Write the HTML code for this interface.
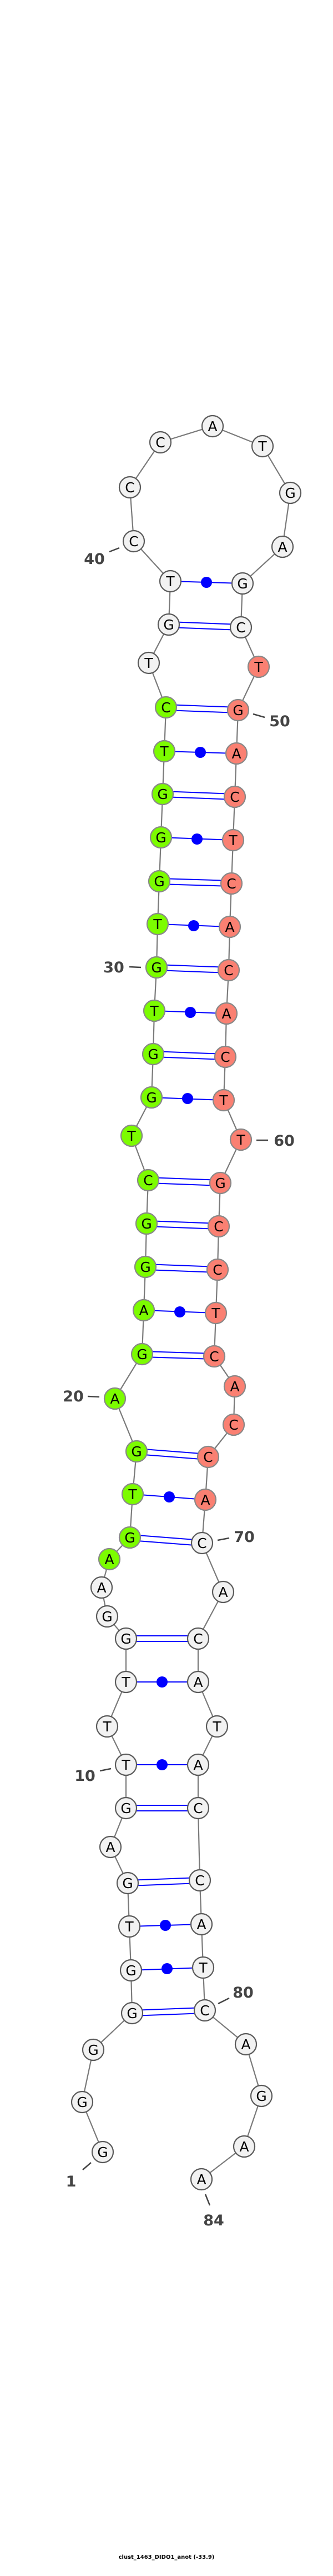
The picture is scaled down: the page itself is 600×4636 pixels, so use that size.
<!DOCTYPE html>
<html><head><meta charset="utf-8"><style>html,body{margin:0;padding:0;background:#fff}svg{display:block}</style></head>
<body>
<svg width="600" height="4636" viewBox="0 0 600 4636" xmlns="http://www.w3.org/2000/svg" font-family="'DejaVu Sans','Liberation Sans',sans-serif">
<polyline fill="none" stroke="#7a7a7a" stroke-width="2.2" points="185,3873 148,3783 168,3689 238,3623 236,3546 233,3467 230,3389 199,3324 227,3254 227,3176 193,3107 227,3027 227,2949 193,2909 183,2857 197,2806 234,2767 239,2689 246,2612 207,2517 256,2437 259,2358 262,2280 264,2202 267,2124 237,2044 273,1975 276,1897 278,1819 282,1741 284,1663 287,1586 290,1507 293,1429 296,1352 299,1273 268,1193 304,1124 307,1046 241,974 234,877 289,796 383,767 473,803 523,887 509,984 437,1050 434,1129 466,1200 429,1278 426,1356 423,1434 420,1512 417,1590 414,1668 412,1746 408,1824 406,1902 403,1980 434,2051 397,2129 394,2207 392,2285 389,2363 386,2441 423,2495 421,2564 375,2622 370,2699 364,2777 402,2865 357,2949 357,3027 391,3107 357,3176 357,3254 360,3384 363,3463 366,3541 369,3618 443,3679 471,3772 440,3863 363,3922"/>
<g stroke="#0000ff" stroke-width="2">
<!-- double (GC) -->
<line x1="227" y1="2944" x2="357" y2="2944"/><line x1="227" y1="2954" x2="357" y2="2954"/>
<line x1="227" y1="3249" x2="357" y2="3249"/><line x1="227" y1="3259" x2="357" y2="3259"/>
<line x1="230" y1="3384" x2="360" y2="3379"/><line x1="230" y1="3394" x2="360" y2="3389"/>
<line x1="238" y1="3618" x2="369" y2="3613"/><line x1="238" y1="3628" x2="369" y2="3623"/>
<line x1="304" y1="1119" x2="434" y2="1124"/><line x1="304" y1="1129" x2="434" y2="1134"/>
<line x1="299" y1="1268" x2="429" y2="1273"/><line x1="299" y1="1278" x2="429" y2="1283"/>
<line x1="293" y1="1424" x2="423" y2="1429"/><line x1="293" y1="1434" x2="423" y2="1439"/>
<line x1="287" y1="1581" x2="417" y2="1585"/><line x1="287" y1="1591" x2="417" y2="1595"/>
<line x1="282" y1="1736" x2="412" y2="1741"/><line x1="282" y1="1746" x2="412" y2="1751"/>
<line x1="276" y1="1892" x2="406" y2="1897"/><line x1="276" y1="1902" x2="406" y2="1907"/>
<line x1="267" y1="2119" x2="397" y2="2124"/><line x1="267" y1="2129" x2="397" y2="2134"/>
<line x1="264" y1="2197" x2="394" y2="2202"/><line x1="264" y1="2207" x2="394" y2="2212"/>
<line x1="262" y1="2275" x2="392" y2="2280"/><line x1="262" y1="2285" x2="392" y2="2290"/>
<line x1="256" y1="2432" x2="386" y2="2436"/><line x1="256" y1="2442" x2="386" y2="2446"/>
<line x1="246" y1="2607" x2="375" y2="2617"/><line x1="246" y1="2617" x2="375" y2="2627"/>
<line x1="234" y1="2762" x2="364" y2="2772"/><line x1="234" y1="2772" x2="364" y2="2782"/>
<!-- single (wobble/AT) -->
<line x1="227" y1="3027" x2="357" y2="3027"/>
<line x1="227" y1="3176" x2="357" y2="3176"/>
<line x1="233" y1="3467" x2="363" y2="3463"/>
<line x1="236" y1="3546" x2="366" y2="3541"/>
<line x1="307" y1="1046" x2="437" y2="1050"/>
<line x1="296" y1="1352" x2="426" y2="1356"/>
<line x1="290" y1="1507" x2="420" y2="1512"/>
<line x1="284" y1="1663" x2="414" y2="1668"/>
<line x1="278" y1="1819" x2="408" y2="1824"/>
<line x1="273" y1="1975" x2="403" y2="1980"/>
<line x1="259" y1="2358" x2="389" y2="2363"/>
<line x1="239" y1="2689" x2="370" y2="2699"/>
</g>
<g fill="#0000ff">
<circle cx="292" cy="3027" r="10"/><circle cx="292" cy="3176" r="10"/><circle cx="298" cy="3465" r="10"/><circle cx="301" cy="3543" r="10"/>
<circle cx="372" cy="1048" r="10"/><circle cx="361" cy="1354" r="10"/><circle cx="355" cy="1510" r="10"/><circle cx="349" cy="1666" r="10"/>
<circle cx="343" cy="1822" r="10"/><circle cx="338" cy="1977" r="10"/><circle cx="324" cy="2361" r="10"/><circle cx="305" cy="2694" r="10"/>
</g>
<g stroke-width="2.2" font-size="25" text-anchor="middle">
<g fill="#f2f2f2" stroke="#5a5a5a">
<circle cx="185" cy="3873" r="19"/><circle cx="148" cy="3783" r="19"/><circle cx="168" cy="3689" r="19"/><circle cx="238" cy="3623" r="19"/><circle cx="236" cy="3546" r="19"/><circle cx="233" cy="3467" r="19"/><circle cx="230" cy="3389" r="19"/><circle cx="199" cy="3324" r="19"/><circle cx="227" cy="3254" r="19"/><circle cx="227" cy="3176" r="19"/><circle cx="193" cy="3107" r="19"/><circle cx="227" cy="3027" r="19"/><circle cx="227" cy="2949" r="19"/><circle cx="193" cy="2909" r="19"/><circle cx="183" cy="2857" r="19"/>
<circle cx="268" cy="1193" r="19"/><circle cx="304" cy="1124" r="19"/><circle cx="307" cy="1046" r="19"/><circle cx="241" cy="974" r="19"/><circle cx="234" cy="877" r="19"/><circle cx="289" cy="796" r="19"/><circle cx="383" cy="767" r="19"/><circle cx="473" cy="803" r="19"/><circle cx="523" cy="887" r="19"/><circle cx="509" cy="984" r="19"/><circle cx="437" cy="1050" r="19"/><circle cx="434" cy="1129" r="19"/>
<circle cx="364" cy="2777" r="19"/><circle cx="402" cy="2865" r="19"/><circle cx="357" cy="2949" r="19"/><circle cx="357" cy="3027" r="19"/><circle cx="391" cy="3107" r="19"/><circle cx="357" cy="3176" r="19"/><circle cx="357" cy="3254" r="19"/><circle cx="360" cy="3384" r="19"/><circle cx="363" cy="3463" r="19"/><circle cx="366" cy="3541" r="19"/><circle cx="369" cy="3618" r="19"/><circle cx="443" cy="3679" r="19"/><circle cx="471" cy="3772" r="19"/><circle cx="440" cy="3863" r="19"/><circle cx="363" cy="3922" r="19"/>
</g>
<g fill="#7cfc00" stroke="#888">
<circle cx="197" cy="2806" r="19"/><circle cx="234" cy="2767" r="19"/><circle cx="239" cy="2689" r="19"/><circle cx="246" cy="2612" r="19"/><circle cx="207" cy="2517" r="19"/><circle cx="256" cy="2437" r="19"/><circle cx="259" cy="2358" r="19"/><circle cx="262" cy="2280" r="19"/><circle cx="264" cy="2202" r="19"/><circle cx="267" cy="2124" r="19"/><circle cx="237" cy="2044" r="19"/><circle cx="273" cy="1975" r="19"/><circle cx="276" cy="1897" r="19"/><circle cx="278" cy="1819" r="19"/><circle cx="282" cy="1741" r="19"/><circle cx="284" cy="1663" r="19"/><circle cx="287" cy="1586" r="19"/><circle cx="290" cy="1507" r="19"/><circle cx="293" cy="1429" r="19"/><circle cx="296" cy="1352" r="19"/><circle cx="299" cy="1273" r="19"/>
</g>
<g fill="#fa8072" stroke="#888">
<circle cx="466" cy="1200" r="19"/><circle cx="429" cy="1278" r="19"/><circle cx="426" cy="1356" r="19"/><circle cx="423" cy="1434" r="19"/><circle cx="420" cy="1512" r="19"/><circle cx="417" cy="1590" r="19"/><circle cx="414" cy="1668" r="19"/><circle cx="412" cy="1746" r="19"/><circle cx="408" cy="1824" r="19"/><circle cx="406" cy="1902" r="19"/><circle cx="403" cy="1980" r="19"/><circle cx="434" cy="2051" r="19"/><circle cx="397" cy="2129" r="19"/><circle cx="394" cy="2207" r="19"/><circle cx="392" cy="2285" r="19"/><circle cx="389" cy="2363" r="19"/><circle cx="386" cy="2441" r="19"/><circle cx="423" cy="2495" r="19"/><circle cx="421" cy="2564" r="19"/><circle cx="375" cy="2622" r="19"/><circle cx="370" cy="2699" r="19"/>
</g>
<g fill="#000" stroke="none">
<text x="185" y="3882">G</text><text x="148" y="3792">G</text><text x="168" y="3698">G</text><text x="238" y="3632">G</text><text x="236" y="3555">G</text><text x="233" y="3476">T</text><text x="230" y="3398">G</text><text x="199" y="3333">A</text><text x="227" y="3263">G</text><text x="227" y="3185">T</text><text x="193" y="3116">T</text><text x="227" y="3036">T</text><text x="227" y="2958">G</text><text x="193" y="2918">G</text><text x="183" y="2866">A</text>
<text x="197" y="2815">A</text><text x="234" y="2776">G</text><text x="239" y="2698">T</text><text x="246" y="2621">G</text><text x="207" y="2526">A</text><text x="256" y="2446">G</text><text x="259" y="2367">A</text><text x="262" y="2289">G</text><text x="264" y="2211">G</text><text x="267" y="2133">C</text><text x="237" y="2053">T</text><text x="273" y="1984">G</text><text x="276" y="1906">G</text><text x="278" y="1828">T</text><text x="282" y="1750">G</text><text x="284" y="1672">T</text><text x="287" y="1595">G</text><text x="290" y="1516">G</text><text x="293" y="1438">G</text><text x="296" y="1361">T</text><text x="299" y="1282">C</text>
<text x="268" y="1202">T</text><text x="304" y="1133">G</text><text x="307" y="1055">T</text><text x="241" y="983">C</text><text x="234" y="886">C</text><text x="289" y="805">C</text><text x="383" y="776">A</text><text x="473" y="812">T</text><text x="523" y="896">G</text><text x="509" y="993">A</text><text x="437" y="1059">G</text><text x="434" y="1138">C</text>
<text x="466" y="1209">T</text><text x="429" y="1287">G</text><text x="426" y="1365">A</text><text x="423" y="1443">C</text><text x="420" y="1521">T</text><text x="417" y="1599">C</text><text x="414" y="1677">A</text><text x="412" y="1755">C</text><text x="408" y="1833">A</text><text x="406" y="1911">C</text><text x="403" y="1989">T</text><text x="434" y="2060">T</text><text x="397" y="2138">G</text><text x="394" y="2216">C</text><text x="392" y="2294">C</text><text x="389" y="2372">T</text><text x="386" y="2450">C</text><text x="423" y="2504">A</text><text x="421" y="2573">C</text><text x="375" y="2631">C</text><text x="370" y="2708">A</text>
<text x="364" y="2786">C</text><text x="402" y="2874">A</text><text x="357" y="2958">C</text><text x="357" y="3036">A</text><text x="391" y="3116">T</text><text x="357" y="3185">A</text><text x="357" y="3263">C</text><text x="360" y="3393">C</text><text x="363" y="3472">A</text><text x="366" y="3550">T</text><text x="369" y="3627">C</text><text x="443" y="3688">A</text><text x="471" y="3781">G</text><text x="440" y="3872">A</text><text x="363" y="3931">A</text>
</g>
</g>
<g stroke="#444" stroke-width="2.5">
<line x1="197" y1="993" x2="215" y2="986"/><line x1="456" y1="1285" x2="477" y2="1291"/><line x1="233" y1="1740" x2="254" y2="1741"/><line x1="462" y1="2052" x2="483" y2="2052"/><line x1="158" y1="2513" x2="179" y2="2514"/><line x1="392" y1="2772" x2="413" y2="2768"/><line x1="180" y1="3187" x2="200" y2="3183"/><line x1="393" y1="3606" x2="413" y2="3596"/><line x1="149" y1="3905" x2="164" y2="3892"/><line x1="370" y1="3949" x2="378" y2="3969"/>
</g>
<g fill="#444" font-weight="bold" font-size="27" text-anchor="middle">
<text x="170" y="1015">40</text><text x="504" y="1307">50</text><text x="205" y="1750">30</text><text x="512" y="2062">60</text><text x="132" y="2522">20</text><text x="440" y="2775">70</text><text x="153" y="3205">10</text><text x="438" y="3595">80</text><text x="128" y="3935">1</text><text x="385" y="4005">84</text>
</g>
<text x="300" y="4605" font-size="10" font-weight="bold" text-anchor="middle" fill="#000">clust_1463_DIDO1_anot (-33.9)</text>
</svg>
</body></html>
